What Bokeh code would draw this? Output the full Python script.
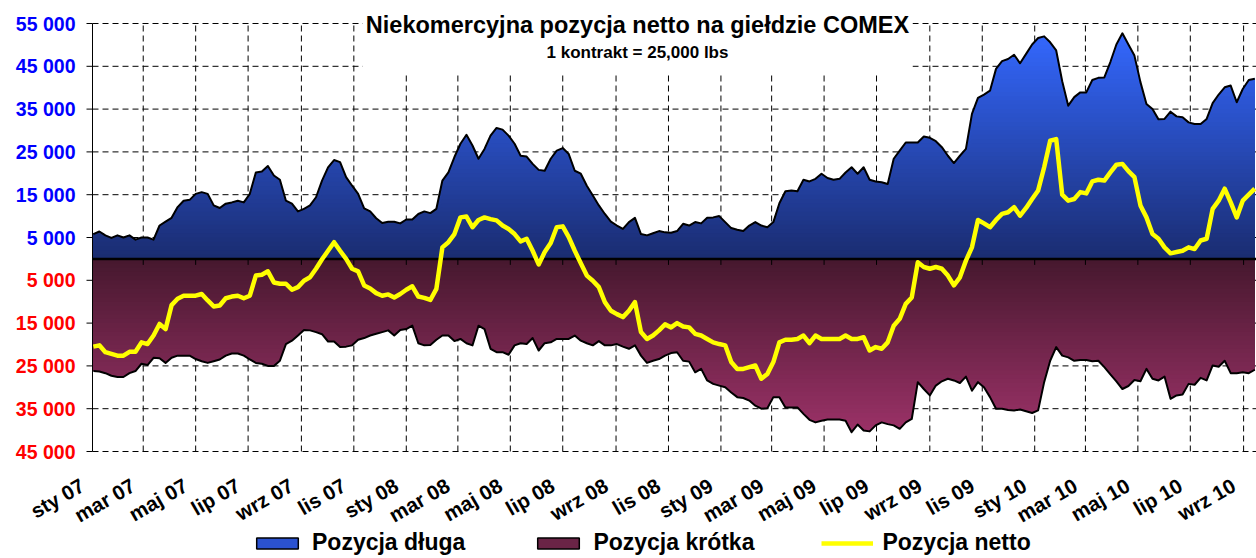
import numpy as np
import pandas as pd
from bokeh.plotting import figure
from bokeh.models import Range1d, LabelSet, Label, ColumnDataSource, Legend, LegendItem
from bokeh.core.properties import value
from bokeh.embed import file_html
from bokeh.resources import INLINE

# ---------------- data (contracts) ----------------
first_report = "2007-01-02"
long_pos = [5800, 6400, 5500, 4900, 5500, 5000, 5500, 4500, 5000, 5000, 4500, 7800, 8700, 9600, 12100, 13600,
            13800, 15200, 15600, 15200, 12500, 11900, 12900, 13200, 13600, 13200, 15200, 20200, 20400, 21700,
            19500, 18500, 13600, 12900, 11100, 11700, 12500, 14400, 18300, 21400, 23100, 22600, 19100, 17100,
            15200, 11800, 11100, 9500, 8400, 8700, 8700, 8300, 9200, 9200, 10500, 11100, 10700, 11700, 18300,
            20200, 23800, 26900, 29000, 26500, 23400, 25700, 28800, 30600, 30200, 28800, 26900, 24100, 23900,
            22200, 20800, 20600, 23400, 25300, 25900, 24500, 20600, 19900, 17100, 14800, 12500, 10500, 8700,
            7800, 7000, 8600, 9600, 5800, 5500, 6000, 6500, 6200, 6100, 6500, 8200, 7800, 8600, 8300, 9600,
            9700, 10000, 8600, 7200, 6800, 6500, 7800, 8600, 7800, 7400, 8600, 13000, 15800, 16000, 15800,
            18500, 18100, 18700, 19900, 18900, 18500, 18700, 20200, 21400, 19900, 21400, 18500, 18100, 17900,
            17500, 23400, 25300, 27200, 27200, 27200, 28600, 28300, 27500, 26100, 24100, 22400, 24100, 25700,
            33900, 37600, 38400, 39300, 44400, 46200, 46700, 47700, 45700, 47900, 50100, 51600, 52000, 50600,
            48700, 41500, 35800, 37800, 38900, 38900, 41800, 42300, 42400, 46000, 50100, 52700, 50100, 47500,
            41300, 36200, 35000, 32600, 32700, 34400, 33300, 33100, 31900, 31500, 31500, 32700, 36400, 38400,
            40100, 40500, 36600, 39700, 41800, 42100]
short_pos = [26200, 26300, 26700, 27300, 27600, 27600, 26700, 26200, 24500, 24800, 23100, 23200, 24300, 23100,
             22600, 22600, 22600, 23400, 23900, 24300, 23900, 23500, 22600, 22100, 22100, 22600, 23500, 24300,
             24500, 25000, 25000, 23800, 19900, 19100, 17900, 16600, 16700, 17100, 17600, 19300, 19300, 20600,
             20500, 20200, 18900, 18500, 17900, 17500, 17100, 16700, 17900, 16600, 16400, 15600, 19700, 20200,
             20100, 18900, 17900, 17900, 19200, 18700, 19700, 20200, 15600, 16400, 21000, 21800, 21800, 22400,
             20200, 19700, 19900, 18500, 21400, 19700, 19500, 18700, 18700, 18700, 17900, 19100, 19700, 20200,
             19200, 20200, 20200, 19900, 20500, 21000, 20200, 22600, 24300, 23800, 23400, 22600, 22000, 21800,
             23800, 24000, 26500, 25700, 28400, 29200, 29600, 30000, 31200, 32300, 32500, 33100, 34300, 35000,
             34900, 32300, 32300, 34700, 34700, 34700, 36200, 37600, 38200, 37800, 37500, 37500, 37500, 37800,
             40500, 38700, 40100, 40300, 38900, 38200, 38600, 38900, 39700, 38200, 37400, 28800, 30400, 31900,
             29600, 28600, 28000, 28400, 29000, 27500, 30800, 28800, 30000, 32300, 35000, 35000, 35300, 35400,
             35200, 35600, 36000, 35400, 28800, 23800, 20600, 22600, 23000, 23800, 23600, 23600, 23900, 23800,
             25300, 27000, 28600, 30400, 29700, 28300, 28600, 25700, 28000, 28400, 27500, 32700, 31900, 31700,
             29200, 29400, 27800, 28400, 24900, 25200, 23800, 26700, 26700, 26500, 26700, 25900]
net_pos = [-20500, -20200, -21800, -22200, -22600, -22600, -21700, -21700, -19500, -19900, -17900, -15200,
           -16400, -10800, -9300, -8600, -8600, -8600, -8200, -9700, -11100, -10900, -9200, -8800, -8600, -9200,
           -8600, -3900, -3700, -2900, -5500, -5800, -5800, -7200, -6600, -5100, -4300, -2300, -100, 1900, 3900,
           1900, 0, -2300, -2900, -6200, -6900, -8000, -8600, -8300, -9000, -8200, -7200, -6400, -8800, -9100,
           -9600, -7000, 2700, 3900, 5800, 9700, 9900, 7400, 9100, 9700, 9300, 9000, 7800, 7000, 5800, 4100,
           4700, 1900, -1300, 1600, 3700, 7400, 7600, 5100, 1900, -1000, -3900, -5100, -6600, -10100, -12100,
           -12900, -13600, -12100, -10100, -17100, -18700, -17900, -16700, -15300, -16000, -15000, -15800,
           -16000, -17500, -17900, -18700, -19500, -19900, -20200, -24100, -25700, -25700, -25300, -24900,
           -28000, -26900, -24100, -19500, -18900, -18900, -18700, -17900, -19700, -17900, -18700, -18700,
           -18700, -18700, -17900, -18700, -18700, -18300, -21400, -20600, -21000, -19500, -15600, -14000,
           -10500, -9000, -800, -1900, -2300, -1900, -2300, -3900, -6200, -4300, -400, 2700, 9100, 8300, 7400,
           9100, 10500, 10900, 12100, 10100, 11900, 14000, 16000, 21400, 27600, 28000, 15000, 13600, 14000,
           15600, 15300, 18100, 18500, 18300, 20200, 22000, 22200, 20500, 19100, 12500, 9700, 5800, 4700, 2700,
           1300, 1600, 1900, 2700, 2300, 4300, 4700, 11700, 13600, 16400, 13200, 9700, 13600, 15000, 16400]

month_starts = ["2007-01-01", "2007-03-01", "2007-05-01", "2007-07-01", "2007-09-01", "2007-11-01",
                "2008-01-01", "2008-03-01", "2008-05-01", "2008-07-01", "2008-09-01", "2008-11-01",
                "2009-01-01", "2009-03-01", "2009-05-01", "2009-07-01", "2009-09-01", "2009-11-01",
                "2010-01-01", "2010-03-01", "2010-05-01", "2010-07-01", "2010-09-01"]
month_labels = ["sty 07", "mar 07", "maj 07", "lip 07", "wrz 07", "lis 07",
                "sty 08", "mar 08", "maj 08", "lip 08", "wrz 08", "lis 08",
                "sty 09", "mar 09", "maj 09", "lip 09", "wrz 09", "lis 09",
                "sty 10", "mar 10", "maj 10", "lip 10", "wrz 10"]
pos_ticks = [55000, 45000, 35000, 25000, 15000, 5000]
pos_tick_labels = ["55 000", "45 000", "35 000", "25 000", "15 000", "5 000"]
neg_ticks = [-5000, -15000, -25000, -35000, -45000]
neg_tick_labels = ["5 000", "15 000", "25 000", "35 000", "45 000"]
series_names = ["Pozycja długa", "Pozycja krótka", "Pozycja netto"]
title_text = "Niekomercyjna pozycja netto na giełdzie COMEX"
subtitle_text = "1 kontrakt = 25,000 lbs"

# ---------------- layout constants (pixels of the 1256x558 canvas) ----------------
FONT = "Liberation Sans"
W, H = 1256, 558
X_START = pd.Timestamp("2007-01-01")
X_END = X_START + pd.Timedelta(days=1354)
Y_MIN, Y_MAX = -45000, 55000
PLOT_L, PLOT_R, PLOT_T, PLOT_B = 92, 1256, 23, 451


def px_x(px):
    return X_START + (X_END - X_START) * ((px - PLOT_L) / (PLOT_R - PLOT_L))


def px_y(py):
    return Y_MAX - (py - PLOT_T) * (Y_MAX - Y_MIN) / (PLOT_B - PLOT_T)


dates = pd.date_range(first_report, periods=len(long_pos), freq="7D")
long_arr = np.array(long_pos, dtype=float)
short_arr = -np.array(short_pos, dtype=float)
net_arr = np.array(net_pos, dtype=float)
grid_dates = list(pd.to_datetime(month_starts[1:]))
all_ticks = pos_ticks + neg_ticks

p = figure(width=W, height=H, x_axis_type="datetime", x_axis_location=None, y_axis_location=None,
           x_range=Range1d(px_x(0), px_x(W)), y_range=Range1d(px_y(H), px_y(0)),
           toolbar_location=None, output_backend="svg", title=None,
           min_border_left=0, min_border_right=0, min_border_top=0, min_border_bottom=0)
p.outline_line_color = None
p.background_fill_color = "white"
p.border_fill_color = "white"
p.xgrid.visible = False
p.ygrid.visible = False

DASH = "6 4"
# horizontal grid lines
n = len(all_ticks)
p.segment(x0=[X_START] * n, x1=[X_END] * n, y0=all_ticks, y1=all_ticks,
          line_color="black", line_width=1, line_dash=DASH)
# vertical grid lines
m = len(grid_dates)
p.segment(x0=grid_dates, x1=grid_dates, y0=[Y_MIN] * m, y1=[Y_MAX] * m,
          line_color="black", line_width=1, line_dash=DASH)
# white box behind the title
p.quad(left=[px_x(362)], right=[px_x(912)], bottom=[px_y(72)], top=[px_y(0)],
       fill_color="white", line_color=None)


def lerp(c0, c1, t):
    t = min(max(t, 0.0), 1.0)
    return "#%02x%02x%02x" % tuple(int(round(a + (b - a) * t)) for a, b in zip(c0, c1))


# long area gradient (nested bands, highest first)
BLUE_LO, BLUE_HI = (26, 44, 112), (52, 104, 255)
for lv in range(Y_MAX, 0, -1000):
    p.varea(x=dates, y1=0, y2=np.minimum(long_arr, lv),
            fill_color=lerp(BLUE_LO, BLUE_HI, (lv - 500) / 53000))
# short area gradient (deepest first)
MAG_LO, MAG_HI = (70, 24, 46), (156, 50, 104)
for lv in range(Y_MIN, 0, 1000):
    p.varea(x=dates, y1=0, y2=np.maximum(short_arr, lv),
            fill_color=lerp(MAG_LO, MAG_HI, (-lv - 500) / 41000))

p.line(dates, long_arr, line_color="black", line_width=2, line_join="round")
p.line(dates, short_arr, line_color="black", line_width=2, line_join="round")

# zero (category) axis line with ticks
p.segment(x0=[X_START], y0=[0], x1=[X_END], y1=[0], line_color="black", line_width=2.5)
tick_len = 6 * (Y_MAX - Y_MIN) / (PLOT_B - PLOT_T)
p.segment(x0=grid_dates, y0=[0] * m, x1=grid_dates, y1=[-tick_len] * m, line_color="black", line_width=1)

r_net = p.line(dates, net_arr, line_color="#FFFF00", line_width=4.5, line_join="round")

# value axis: line, ticks, labels
p.segment(x0=[X_START], x1=[X_START], y0=[Y_MIN], y1=[Y_MAX], line_color="black", line_width=1)
p.segment(x0=[px_x(PLOT_L - 6)] * n, x1=[X_START] * n, y0=all_ticks, y1=all_ticks,
          line_color="black", line_width=1)
label_font = dict(text_font=value(FONT), text_font_style="bold")
pos_src = ColumnDataSource(dict(x=[X_START] * len(pos_ticks), y=pos_ticks, t=pos_tick_labels))
p.add_layout(LabelSet(x="x", y="y", text="t", source=pos_src, x_offset=-17, text_align="right",
                      text_baseline="middle", text_font_size="19.5px", text_color="#0000FF", **label_font))
neg_src = ColumnDataSource(dict(x=[X_START] * len(neg_ticks), y=neg_ticks, t=neg_tick_labels))
p.add_layout(LabelSet(x="x", y="y", text="t", source=neg_src, x_offset=-17, text_align="right",
                      text_baseline="middle", text_font_size="19.5px", text_color="#FF0000", **label_font))

# month labels (rotated)
mon_src = ColumnDataSource(dict(x=list(pd.to_datetime(month_starts)), y=[Y_MIN] * len(month_starts),
                                t=month_labels))
p.add_layout(LabelSet(x="x", y="y", text="t", source=mon_src, x_offset=-10, y_offset=-32,
                      angle=30, angle_units="deg", text_align="right", text_baseline="middle",
                      text_font_size="20.5px", text_color="black", **label_font))

# titles
p.add_layout(Label(x=px_x(637), y=px_y(24), text=title_text, text_align="center", text_baseline="middle",
                   text_font=FONT, text_font_style="bold", text_font_size="23.5px", text_color="black"))
p.add_layout(Label(x=px_x(637), y=px_y(52), text=subtitle_text, text_align="center", text_baseline="middle",
                   text_font=FONT, text_font_style="bold", text_font_size="17px", text_color="black"))

# legend (patch swatches are legend-only renderers with no visible data)
nan = [float("nan")]
r1 = p.quad(left=nan, right=nan, top=nan, bottom=nan, fill_color="#2b52d0", line_color="black", line_width=1.5)
r2 = p.quad(left=nan, right=nan, top=nan, bottom=nan, fill_color="#6a2446", line_color="black", line_width=1.5)
legend = Legend(items=[LegendItem(label=series_names[0], renderers=[r1]),
                       LegendItem(label=series_names[1], renderers=[r2]),
                       LegendItem(label=series_names[2], renderers=[r_net])],
                orientation="horizontal", location=(251, 2), glyph_width=52, glyph_height=14,
                label_standoff=9, spacing=67, padding=0, margin=0,
                border_line_color=None, background_fill_alpha=0, label_text_color="black",
                label_text_font=FONT, label_text_font_style="bold", label_text_font_size="23px")
p.add_layout(legend)

open("out.html", "w").write(file_html(p, INLINE))
